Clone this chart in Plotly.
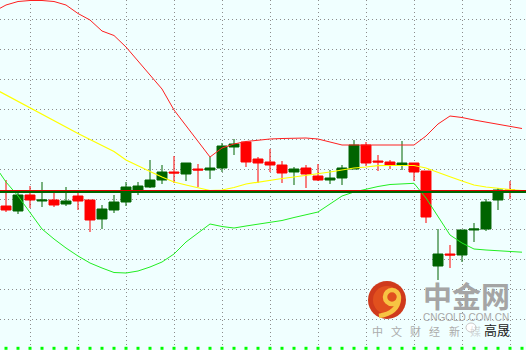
import plotly.graph_objects as go

# ---------------- data (price units) ----------------
idx = list(range(43))
opens = [144, 139, 155, 149, 150, 146, 154, 150, 131, 140, 148, 159, 163, 170, 178,
         176, 181, 180, 182, 203, 208, 191, 188, 185, 178, 182, 174, 170, 172, 181,
         205, 189, 188, 185, 187, 179, 84, 96, 95, 120, 121, 150, 160]
highs = [170, 157, 164, 168, 160, 163, 157, 150, 145, 155, 168, 168, 190, 185, 194,
         187, 186, 193, 207, 211, 209, 193, 201, 189, 183, 185, 186, 180, 185, 210,
         208, 195, 190, 209, 187, 179, 121, 105, 120, 127, 151, 162, 169]
lows = [138, 136, 142, 143, 143, 144, 140, 118, 121, 137, 144, 155, 162, 166, 167,
        169, 163, 171, 178, 195, 183, 167, 178, 167, 165, 162, 169, 166, 165, 181,
        184, 179, 181, 180, 169, 127, 70, 82, 88, 108, 119, 140, 151]
closes = [140, 155, 150, 150, 145, 149, 149, 130, 141, 148, 163, 164, 170, 178, 177,
          187, 180, 182, 204, 206, 188, 187, 185, 177, 181, 176, 170, 172, 182, 205,
          187, 188, 185, 187, 178, 133, 96, 95, 120, 121, 148, 160, 159]

band_idx = list(range(-1, 44))
upper = [338.5, 345, 348.5, 349.5, 349.5, 348.5, 345, 336.5, 330, 319, 314.5, 303, 289, 275, 261, 240,
         224, 208, 193, 202, 206, 208.5, 210, 211, 211.5, 212, 212, 211, 208, 205, 205,
         205, 205, 205, 205, 205, 214, 226, 234, 232.5, 230, 228, 225.5, 223.5, 221.5]
middle = [261.5, 255, 249, 242.5, 236, 229.5, 223, 216.5, 210.5, 204.5, 198.5, 190, 184, 178.5, 173, 168,
          165, 162, 159.5, 160, 162.5, 166, 168, 170, 171.5, 173, 174.5, 176, 178, 180, 182,
          183, 184.3, 184.5, 184.5, 184.5, 182, 178, 173.3, 169, 165, 163, 161.5, 160.5, 159.3]
lower = [185.5, 168, 154, 138, 121, 111, 102, 94, 87, 82, 77.5, 77, 79, 83, 88, 96,
         108, 117, 126, 123.5, 122, 124, 126, 128, 129.5, 132.5, 135, 138, 146, 154, 158,
         161, 163.5, 165.5, 166, 166.7, 152, 133, 115, 107, 101, 100, 99.2, 98.5, 97.8]

level_red = 159.5
level_green = 158.0
tick_base = 1.7
tick_idx = list(range(0, 44))
vgrid = list(range(2, 43, 4))

W, H = 526, 350


def P(x):
    return x / W


def Q(y):
    return 1 - y / H


fig = go.Figure()

fig.add_trace(go.Scatter(x=band_idx, y=upper, mode='lines',
                         line=dict(color='#FF2020', width=1), hoverinfo='skip'))
fig.add_trace(go.Scatter(x=band_idx, y=middle, mode='lines',
                         line=dict(color='#FFFF00', width=1.2), hoverinfo='skip'))
fig.add_trace(go.Scatter(x=band_idx, y=lower, mode='lines',
                         line=dict(color='#22EE22', width=1), hoverinfo='skip'))

fig.add_trace(go.Candlestick(
    x=idx, open=opens, high=highs, low=lows, close=closes,
    increasing=dict(line=dict(color='#006400', width=1), fillcolor='#006400'),
    decreasing=dict(line=dict(color='#FF0000', width=1), fillcolor='#FF0000'),
    whiskerwidth=0, hoverinfo='skip'))

fig.add_trace(go.Scatter(x=tick_idx, y=[tick_base] * len(tick_idx), mode='markers',
                         marker=dict(symbol='square', size=3, color='#00FF00',
                                     line=dict(width=0)),
                         hoverinfo='skip', cliponaxis=False))

shapes = [
    dict(type='line', xref='paper', x0=0, x1=1, yref='y', y0=level_green, y1=level_green,
         line=dict(color='#006400', width=2)),
    dict(type='line', xref='paper', x0=0, x1=1, yref='y', y0=level_red, y1=level_red,
         line=dict(color='#E00000', width=1)),
    # watermark logo
    dict(type='circle', xref='paper', yref='paper', x0=P(368), x1=P(406), y0=Q(319), y1=Q(281),
         fillcolor='#CF3A1C', line=dict(width=0), layer='above'),
    dict(type='circle', xref='paper', yref='paper', x0=P(373), x1=P(401), y0=Q(314), y1=Q(286),
         fillcolor='#E5561F', line=dict(width=0), layer='above', opacity=0.8),
    dict(type='circle', xref='paper', yref='paper', x0=P(385), x1=P(399), y0=Q(304), y1=Q(290),
         fillcolor='rgba(0,0,0,0)', line=dict(color='#F7C443', width=4.5), layer='above'),
    dict(type='path', xref='paper', yref='paper',
         path='M %f %f Q %f %f %f %f' % (P(399), Q(298), P(398), Q(313), P(379), Q(316)),
         line=dict(color='#F7C443', width=4.5), layer='above'),
    # small icon
    dict(type='circle', xref='paper', yref='paper', x0=P(466), x1=P(476), y0=Q(332), y1=Q(323),
         fillcolor='#FFFFFF', line=dict(color='#C8C8C8', width=1), layer='above'),
]

annotations = [
    dict(text='中金网', x=P(466), y=Q(294.5), xref='paper', yref='paper', showarrow=False,
         xanchor='center', yanchor='middle',
         font=dict(family='Noto Sans CJK SC', size=29, color='#A5A5A5', weight=700)),
    dict(text='CNGOLD.COM.CN', x=P(466), y=Q(317), xref='paper', yref='paper', showarrow=False,
         xanchor='center', yanchor='middle',
         font=dict(family='Liberation Sans', size=10, color='#A8A8A8')),
]
for i, ch in enumerate('中文财经新'):
    annotations.append(dict(text=ch, x=P(377 + 19.3 * i), y=Q(331), xref='paper', yref='paper',
                            showarrow=False, xanchor='center', yanchor='middle',
                            font=dict(family='Noto Sans CJK SC', size=11, color='#ABABAB')))
annotations.append(dict(text='媒', x=P(475), y=Q(331), xref='paper', yref='paper',
                        showarrow=False, xanchor='center', yanchor='middle',
                        font=dict(family='Noto Sans CJK SC', size=11, color='rgba(171,171,171,0.45)')))
annotations.append(dict(text='高晟', x=P(497), y=Q(329), xref='paper', yref='paper', showarrow=False,
                        xanchor='center', yanchor='middle',
                        font=dict(family='Noto Sans CJK SC', size=13, color='#222222')))

grid_color = '#8C8C8C'
fig.update_layout(
    width=W, height=H, margin=dict(l=0, r=0, t=0, b=0),
    paper_bgcolor='#F0FFFF', plot_bgcolor='#F0FFFF', showlegend=False,
    boxgap=0.17, boxgroupgap=0,
    xaxis=dict(range=[-0.5, 43.333], rangeslider=dict(visible=False), tickmode='array',
               tickvals=vgrid, showticklabels=False, ticks='', showgrid=True,
               gridcolor=grid_color, griddash='1px,3px', gridwidth=1, zeroline=False,
               showline=False, fixedrange=True),
    yaxis=dict(range=[0, 350], tick0=1, dtick=30, showticklabels=False, ticks='',
               showgrid=True, gridcolor=grid_color, griddash='1px,3px', gridwidth=1,
               zeroline=False, showline=False, fixedrange=True),
    shapes=shapes, annotations=annotations,
)

fig.write_html('out.html')
